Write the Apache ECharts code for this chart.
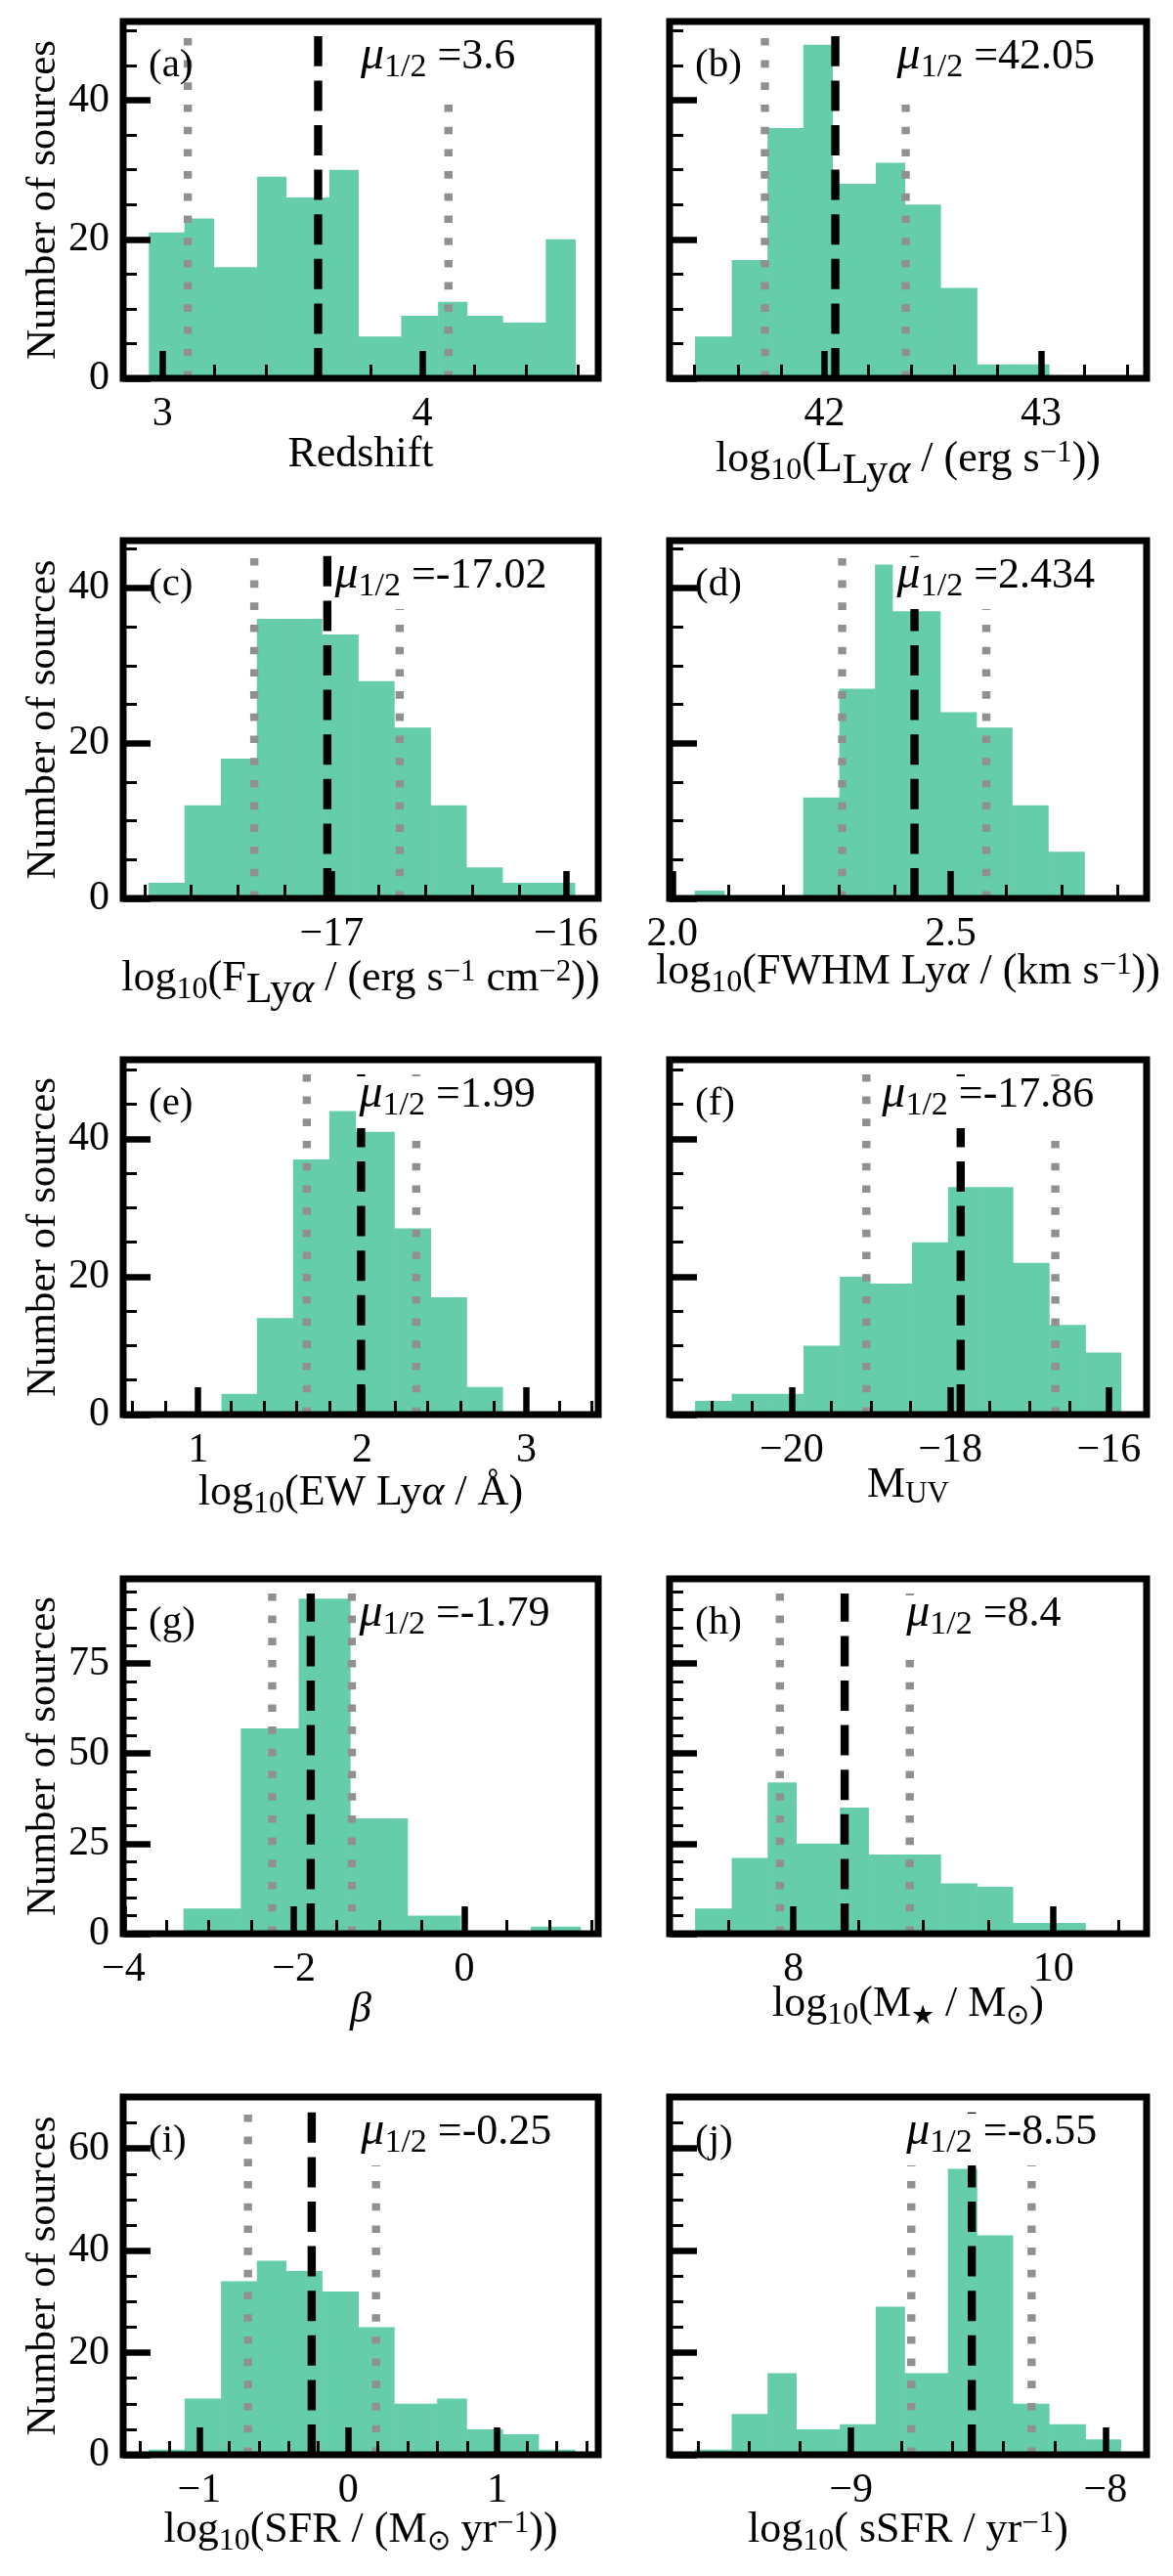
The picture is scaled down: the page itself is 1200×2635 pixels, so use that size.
<!DOCTYPE html>
<html>
<head>
<meta charset="utf-8">
<title>Histograms</title>
<script src="https://cdn.jsdelivr.net/npm/echarts@6.0.0/dist/echarts.min.js"></script>
<style>
html,body{margin:0;padding:0;background:#ffffff;}
#chart{width:1200px;height:2635px;}
</style>
</head>
<body>
<div id="chart"></div>
<script>
// ---------------- data ----------------
// bin edges and counts per panel
const edgesA = [2.947, 3.084, 3.196, 3.364, 3.475, 3.642, 3.753, 3.919, 4.061, 4.172, 4.309, 4.476, 4.589];
const countsA = [21, 23, 16, 29, 26, 30, 6, 9, 11, 9, 8, 20];
const edgesB = [41.402, 41.572, 41.737, 41.902, 42.036, 42.237, 42.370, 42.535, 42.703, 42.870, 43.036];
const countsB = [6, 17, 36, 48, 28, 31, 25, 13, 2, 2];
const edgesC = [-17.782, -17.629, -17.474, -17.320, -17.182, -17.043, -16.888, -16.734, -16.579, -16.426, -16.272, -16.118, -15.963];
const countsC = [2, 12, 18, 36, 36, 34, 28, 22, 12, 4, 2, 2];
const edgesD = [2.040, 2.093, 2.235, 2.300, 2.364, 2.395, 2.481, 2.546, 2.610, 2.675, 2.740];
const countsD = [1, 0, 13, 27, 43, 37, 24, 22, 12, 6];
const edgesE = [1.142, 1.358, 1.578, 1.799, 1.959, 2.194, 2.416, 2.635, 2.854];
const countsE = [3, 14, 37, 44, 41, 27, 17, 4];
const edgesF = [-21.217, -20.755, -20.302, -19.849, -19.392, -19.014, -18.481, -18.028, -17.618, -17.212, -16.755, -16.297, -15.849];
const countsF = [2, 3, 3, 10, 20, 19, 25, 33, 33, 22, 13, 9];
const edgesG = [-3.297, -2.624, -1.943, -1.341, -0.668, -0.044, 0.782, 1.363];
const countsG = [7, 57, 93, 32, 5, 0, 2];
const edgesH = [7.243, 7.525, 7.801, 8.020, 8.357, 8.576, 8.855, 9.131, 9.410, 9.686, 9.965, 10.245];
const countsH = [7, 21, 42, 25, 35, 22, 22, 14, 13, 3, 3];
const edgesI = [-1.340, -1.098, -0.854, -0.613, -0.419, -0.177, 0.067, 0.308, 0.597, 0.794, 1.035, 1.277, 1.521];
const countsI = [1, 11, 34, 38, 36, 32, 25, 10, 11, 5, 4, 1];
const edgesJ = [-9.613, -9.469, -9.328, -9.216, -9.044, -8.903, -8.790, -8.619, -8.506, -8.365, -8.222, -8.079, -7.940];
const countsJ = [1, 8, 16, 5, 6, 29, 16, 56, 43, 10, 6, 3];

// [16th percentile, median, 84th percentile] line positions
const linesA = [3.097, 3.599, 4.101];
const linesB = [41.725, 42.05, 42.375];
const linesC = [-17.331, -17.019, -16.710];
const linesD = [2.305, 2.435, 2.564];
const linesE = [1.662, 1.993, 2.329];
const linesF = [-19.057, -17.868, -16.675];
const linesG = [-2.255, -1.802, -1.319];
const linesH = [7.896, 8.394, 8.895];
const linesI = [-0.673, -0.245, 0.187];
const linesJ = [-8.763, -8.525, -8.290];

const medianLabels = ['3.6', '42.05', '-17.02', '2.434', '1.99', '-17.86', '-1.79', '8.4', '-0.25', '-8.55'];
const panelLetters = ['(a)', '(b)', '(c)', '(d)', '(e)', '(f)', '(g)', '(h)', '(i)', '(j)'];

// x-axis ranges
const xlimA = [2.848, 4.678];
const xlimB = [41.285, 43.487];
const xlimC = [-17.891, -15.862];
const xlimD = [1.995, 2.852];
const xlimE = [0.543, 3.438];
const xlimF = [-21.538, -15.524];
const xlimG = [-4.005, 1.574];
const xlimH = [7.047, 10.717];
const xlimI = [-1.511, 1.679];
const xlimJ = [-9.713, -7.838];

// x ticks
const majorXA = [3, 4];            const majorLabelsA = ['3', '4'];
const majorXB = [42, 43];          const majorLabelsB = ['42', '43'];
const majorXC = [-17, -16];        const majorLabelsC = ['\u221217', '\u221216'];
const majorXD = [2.0, 2.5];        const majorLabelsD = ['2.0', '2.5'];
const majorXE = [1, 2, 3];         const majorLabelsE = ['1', '2', '3'];
const majorXF = [-20, -18, -16];   const majorLabelsF = ['\u221220', '\u221218', '\u221216'];
const majorXG = [-4, -2, 0];       const majorLabelsG = ['\u22124', '\u22122', '0'];
const majorXH = [8, 10];           const majorLabelsH = ['8', '10'];
const majorXI = [-1, 0, 1];        const majorLabelsI = ['\u22121', '0', '1'];
const majorXJ = [-9, -8];          const majorLabelsJ = ['\u22129', '\u22128'];

const minorXA = [3.2, 3.4, 3.6, 3.8, 4.2, 4.4, 4.6];
const minorXB = [41.4, 41.6, 41.8, 42.2, 42.4, 42.6, 42.8, 43.2, 43.4];
const minorXC = [-17.8, -17.6, -17.4, -17.2, -16.8, -16.6, -16.4, -16.2];
const minorXD = [2.1, 2.2, 2.3, 2.4, 2.6, 2.7, 2.8];
const minorXE = [0.6, 0.8, 1.2, 1.4, 1.6, 1.8, 2.2, 2.4, 2.6, 2.8, 3.2, 3.4];
const minorXF = [-21, -20.5, -19.5, -19, -18.5, -17.5, -17, -16.5];
const minorXG = [-3.5, -3, -2.5, -1.5, -1, -0.5, 0.5, 1, 1.5];
const minorXH = [7.5, 8.5, 9, 9.5, 10.5];
const minorXI = [-1.4, -1.2, -0.8, -0.6, -0.4, -0.2, 0.2, 0.4, 0.6, 0.8, 1.2, 1.4, 1.6];
const minorXJ = [-9.6, -9.4, -9.2, -8.8, -8.6, -8.4, -8.2];

// y axes (shared per row)
const rowYMax = [51.33, 46.09, 51.46, 98.5, 70.1];
const majorYRows = [[0, 20, 40], [0, 20, 40], [0, 20, 40], [0, 25, 50, 75], [0, 20, 40, 60]];
const minorYRows = [
  [5, 10, 15, 25, 30, 35, 45, 50],
  [5, 10, 15, 25, 30, 35, 45],
  [5, 10, 15, 25, 30, 35, 45, 50],
  [5, 10, 15, 20, 30, 35, 40, 45, 55, 60, 65, 70, 80, 85, 90, 95],
  [5, 10, 15, 25, 30, 35, 45, 50, 55, 65]
];
const yAxisTitle = 'Number of sources';

// x-axis titles: [text, fontSize, baselineShift, italic]
const MAIN = 44, SUB = 32, SUP = 31;
const xnameA = [['Redshift', MAIN, 0, false]];
const xnameB = [['log', MAIN, 0, false], ['10', SUB, 8, false], ['(L', MAIN, 0, false], ['Ly', MAIN, 12, false], ['\u03b1', MAIN, 12, true], [' / (erg s', MAIN, 0, false], ['\u22121', SUP, -10, false], ['))', MAIN, 0, false]];
const xnameC = [['log', MAIN, 0, false], ['10', SUB, 8, false], ['(F', MAIN, 0, false], ['Ly', MAIN, 12, false], ['\u03b1', MAIN, 12, true], [' / (erg s', MAIN, 0, false], ['\u22121', SUP, -10, false], [' cm', MAIN, 0, false], ['\u22122', SUP, -10, false], ['))', MAIN, 0, false]];
const xnameD = [['log', MAIN, 0, false], ['10', SUB, 8, false], ['(FWHM Ly', MAIN, 0, false], ['\u03b1', MAIN, 0, true], [' / (km s', MAIN, 0, false], ['\u22121', SUP, -10, false], ['))', MAIN, 0, false]];
const xnameE = [['log', MAIN, 0, false], ['10', SUB, 8, false], ['(EW Ly', MAIN, 0, false], ['\u03b1', MAIN, 0, true], [' / \u00c5)', MAIN, 0, false]];
const xnameF = [['M', MAIN, 0, false], ['UV', 31, 6, false]];
const xnameG = [['\u03b2', MAIN, 0, true]];
const xnameH = [['log', MAIN, 0, false], ['10', SUB, 8, false], ['(M', MAIN, 0, false], ['\u2605', 27, 8, false], [' / M', MAIN, 0, false], ['\u2299', 29, 8, false], [')', MAIN, 0, false]];
const xnameI = [['log', MAIN, 0, false], ['10', SUB, 8, false], ['(SFR / (M', MAIN, 0, false], ['\u2299', 29, 8, false], [' yr', MAIN, 0, false], ['\u22121', SUP, -10, false], ['))', MAIN, 0, false]];
const xnameJ = [['log', MAIN, 0, false], ['10', SUB, 8, false], ['( sSFR / yr', MAIN, 0, false], ['\u22121', SUP, -10, false], [')', MAIN, 0, false]];

// ---------------- layout / style ----------------
const LAYOUT = {
  colLeft: [126, 685], colWidth: [486, 488],
  rowTop: [22, 553, 1084, 1615, 2145], rowHeight: [365, 366, 363, 363, 366]
};
const muOffset = [243, 232.6, 216.5, 232.6, 241.4, 217.3, 241.4, 242.2, 243.3, 242.2];
const xNameBase = [90, 95, 94, 87, 92, 84, 90, 84, 89, 89];
const FONT = '"Liberation Serif", "Times New Roman", serif';
const BAR_COLOR = '#66CDAA';
const DOT_COLOR = '#909090';

const panels = [
  { edges: edgesA, counts: countsA, lines: linesA, xlim: xlimA, major: majorXA, majorLabels: majorLabelsA, minor: minorXA, xname: xnameA },
  { edges: edgesB, counts: countsB, lines: linesB, xlim: xlimB, major: majorXB, majorLabels: majorLabelsB, minor: minorXB, xname: xnameB },
  { edges: edgesC, counts: countsC, lines: linesC, xlim: xlimC, major: majorXC, majorLabels: majorLabelsC, minor: minorXC, xname: xnameC },
  { edges: edgesD, counts: countsD, lines: linesD, xlim: xlimD, major: majorXD, majorLabels: majorLabelsD, minor: minorXD, xname: xnameD },
  { edges: edgesE, counts: countsE, lines: linesE, xlim: xlimE, major: majorXE, majorLabels: majorLabelsE, minor: minorXE, xname: xnameE },
  { edges: edgesF, counts: countsF, lines: linesF, xlim: xlimF, major: majorXF, majorLabels: majorLabelsF, minor: minorXF, xname: xnameF },
  { edges: edgesG, counts: countsG, lines: linesG, xlim: xlimG, major: majorXG, majorLabels: majorLabelsG, minor: minorXG, xname: xnameG },
  { edges: edgesH, counts: countsH, lines: linesH, xlim: xlimH, major: majorXH, majorLabels: majorLabelsH, minor: minorXH, xname: xnameH },
  { edges: edgesI, counts: countsI, lines: linesI, xlim: xlimI, major: majorXI, majorLabels: majorLabelsI, minor: minorXI, xname: xnameI },
  { edges: edgesJ, counts: countsJ, lines: linesJ, xlim: xlimJ, major: majorXJ, majorLabels: majorLabelsJ, minor: minorXJ, xname: xnameJ }
];

// ---------------- text helpers ----------------
const mctx = document.createElement('canvas').getContext('2d');
function fontStr(size, italic) { return (italic ? 'italic ' : '') + size + 'px ' + FONT; }
function textWidth(t, size, italic) { mctx.font = fontStr(size, italic); return mctx.measureText(t).width; }
function midToBase(size, italic) {
  mctx.font = fontStr(size, italic);
  mctx.textBaseline = 'alphabetic';
  const a = mctx.measureText('H').actualBoundingBoxAscent;
  mctx.textBaseline = 'middle';
  const b = mctx.measureText('H').actualBoundingBoxAscent;
  mctx.textBaseline = 'alphabetic';
  const d = a - b;
  return (isFinite(d) && d > 0) ? d : 0.34 * size;
}
function textEl(t, x, baseline, size, italic, align, z) {
  return {
    type: 'text', z: z || 41, silent: true,
    style: {
      text: t, x: x, y: baseline - midToBase(size, italic), font: fontStr(size, italic), fill: '#000',
      align: align || 'left', textAlign: align || 'left', verticalAlign: 'middle', textVerticalAlign: 'middle'
    }
  };
}
function placeSegs(list, x, baseline, anchor) {
  const widths = list.map(s => textWidth(s[0], s[1], s[3]));
  const total = widths.reduce((a, b) => a + b, 0);
  const left = anchor === 'center' ? x - total / 2 : x;
  let cx = left;
  const els = [];
  list.forEach((s, i) => {
    els.push(textEl(s[0], cx, baseline + s[2], s[1], s[3], 'left'));
    cx += widths[i];
  });
  return { els: els, total: total, left: left };
}

// ---------------- build option ----------------
const grids = [], xAxes = [], yAxes = [], series = [], elements = [];

function renderBar(params, api) {
  const c = api.value(2);
  if (!c) return null;
  const p0 = api.coord([api.value(0), c]);
  const p1 = api.coord([api.value(1), 0]);
  return {
    type: 'rect',
    shape: { x: p0[0], y: p0[1], width: p1[0] - p0[0] + 0.6, height: p1[1] - p0[1] },
    style: { fill: BAR_COLOR }
  };
}
function renderVLine(params, api) {
  const kind = api.value(1);
  const p = api.coord([api.value(0), 0]);
  const top = params.coordSys.y + 15;
  return {
    type: 'line',
    shape: { x1: p[0], y1: p[1], x2: p[0], y2: top },
    style: {
      stroke: kind ? '#000000' : DOT_COLOR, lineWidth: 8.4,
      lineDash: kind ? [31, 14.6] : [7.6, 15.1], lineCap: 'butt', fill: null
    }
  };
}

panels.forEach((p, k) => {
  const row = Math.floor(k / 2), col = k % 2;
  const L = LAYOUT.colLeft[col], T = LAYOUT.rowTop[row];
  const W = LAYOUT.colWidth[col], H = LAYOUT.rowHeight[row];

  grids.push({
    left: L, top: T, width: W, height: H, show: true,
    borderColor: '#000', borderWidth: 7, backgroundColor: 'transparent',
    containLabel: false, outerBoundsMode: 'none', z: 5
  });

  const labelStyle = { color: '#000', fontSize: 42, fontFamily: FONT };
  xAxes.push({
    type: 'value', gridIndex: k, min: p.xlim[0], max: p.xlim[1], position: 'bottom', z: 6,
    axisLine: { show: false, onZero: false }, splitLine: { show: false },
    axisTick: { show: true, inside: true, length: 28, lineStyle: { color: '#000', width: 6.5 }, customValues: p.major },
    axisLabel: Object.assign({
      show: true, margin: 16, customValues: p.major,
      formatter: function (v) {
        const i = p.major.findIndex(m => Math.abs(m - v) < 1e-6);
        return i >= 0 ? p.majorLabels[i] : '';
      }
    }, labelStyle)
  });
  xAxes.push({
    type: 'value', gridIndex: k, min: p.xlim[0], max: p.xlim[1], position: 'bottom', z: 6,
    axisLine: { show: false, onZero: false }, splitLine: { show: false },
    axisTick: { show: true, inside: true, length: 14, lineStyle: { color: '#000', width: 3 }, customValues: p.minor },
    axisLabel: { show: false }
  });
  yAxes.push({
    type: 'value', gridIndex: k, min: 0, max: rowYMax[row], position: 'left', z: 6,
    axisLine: { show: false, onZero: false }, splitLine: { show: false },
    axisTick: { show: true, inside: true, length: 28, lineStyle: { color: '#000', width: 6.5 }, customValues: majorYRows[row] },
    axisLabel: Object.assign({ show: col === 0, margin: 14, customValues: majorYRows[row] }, labelStyle)
  });
  yAxes.push({
    type: 'value', gridIndex: k, min: 0, max: rowYMax[row], position: 'left', z: 6,
    axisLine: { show: false, onZero: false }, splitLine: { show: false },
    axisTick: { show: true, inside: true, length: 14, lineStyle: { color: '#000', width: 3 }, customValues: minorYRows[row] },
    axisLabel: { show: false }
  });

  const barData = p.counts.map((c, i) => [p.edges[i], p.edges[i + 1], c]);
  series.push({
    type: 'custom', coordinateSystem: 'cartesian2d', xAxisIndex: 2 * k, yAxisIndex: 2 * k,
    data: barData, encode: { x: [0, 1], y: 2 }, renderItem: renderBar, silent: true, z: 2, animation: false
  });
  series.push({
    type: 'custom', coordinateSystem: 'cartesian2d', xAxisIndex: 2 * k, yAxisIndex: 2 * k,
    data: [[p.lines[0], 0], [p.lines[2], 0], [p.lines[1], 1]], encode: { x: 0, y: 1 },
    renderItem: renderVLine, silent: true, z: 3, animation: false
  });

  // panel letter
  elements.push(textEl(panelLetters[k], L + 26, T + 56, 41, false, 'left'));
  // median annotation with white box
  const mu = placeSegs([['\u03bc', 48, 0, true], ['1/2', 34, 8, false], [' =' + medianLabels[k], 44, 0, false]], L + muOffset[k], T + 48, 'left');
  elements.push({ type: 'rect', z: 40, silent: true, shape: { x: mu.left - 3, y: T + 17, width: mu.total + 6, height: 53 }, style: { fill: '#ffffff' } });
  mu.els.forEach(e => elements.push(e));
  // x-axis title
  placeSegs(p.xname, L + W / 2, T + H + xNameBase[k], 'center').els.forEach(e => elements.push(e));
  // y-axis title
  if (col === 0) {
    const d = midToBase(43, false);
    elements.push({
      type: 'text', z: 41, silent: true, x: 55.5 - d, y: T + H / 2, rotation: Math.PI / 2,
      style: { text: yAxisTitle, x: 0, y: 0, font: fontStr(43, false), fill: '#000', align: 'center', textAlign: 'center', verticalAlign: 'middle', textVerticalAlign: 'middle' }
    });
  }
});

const chart = echarts.init(document.getElementById('chart'), null, { renderer: 'canvas', width: 1200, height: 2635 });
chart.setOption({
  backgroundColor: '#ffffff',
  animation: false,
  grid: grids,
  xAxis: xAxes,
  yAxis: yAxes,
  series: series,
  graphic: { elements: elements }
});
</script>
</body>
</html>
